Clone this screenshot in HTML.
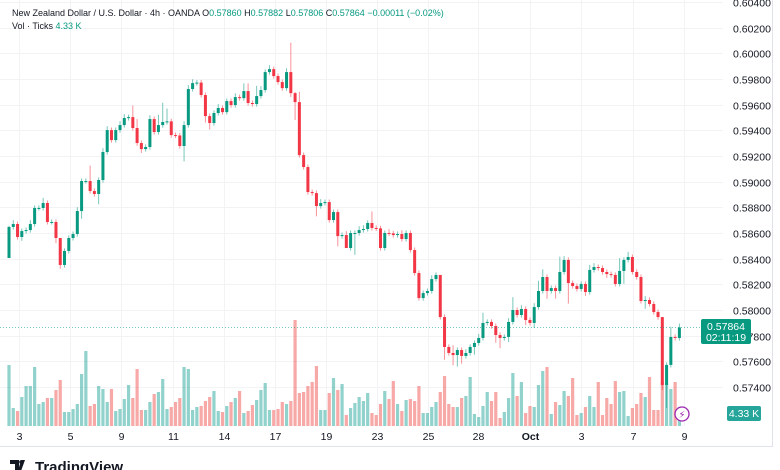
<!DOCTYPE html>
<html><head><meta charset="utf-8"><style>
html,body{margin:0;padding:0;background:#fff;width:780px;height:470px;overflow:hidden}
svg{display:block;font-family:"Liberation Sans","DejaVu Sans",sans-serif}
</style></head><body>
<svg id="chart" width="780" height="470" viewBox="0 0 780 470" xmlns="http://www.w3.org/2000/svg">
<g id="grid"></g>
<g id="vols"></g>
<g id="candles"></g>
<line x1="0" y1="327.5" x2="723" y2="327.5" stroke="#089981" stroke-opacity="0.55" stroke-width="1" stroke-dasharray="1,2"/>
<g id="yaxis"></g>
<g id="xaxis"></g>
<line x1="772.5" y1="0" x2="772.5" y2="447" stroke="#e0e3eb"/>
<line x1="0" y1="446.5" x2="773" y2="446.5" stroke="#e0e3eb"/>
<g>
<rect x="701" y="319" width="50" height="25" rx="2" fill="#089981"/>
<text x="726" y="330" fill="#fff" font-size="10.5" text-anchor="middle">0.57864</text>
<text x="726" y="341" fill="#fff" font-size="10.5" text-anchor="middle">02:11:19</text>
</g>
<g>
<rect x="727" y="406" width="34" height="15" rx="2" fill="#26a69a"/>
<text x="744" y="417" fill="#fff" font-size="10.5" text-anchor="middle">4.33 K</text>
</g>
<g>
<text x="12" y="16" font-size="9" fill="#131722">New Zealand Dollar / U.S. Dollar · 4h · OANDA  <tspan>O</tspan><tspan fill="#089981">0.57860</tspan>  H<tspan fill="#089981">0.57882</tspan>  L<tspan fill="#089981">0.57806</tspan>  C<tspan fill="#089981">0.57864</tspan>  <tspan fill="#089981">−0.00011 (−0.02%)</tspan></text>
<text x="12" y="29" font-size="9" fill="#131722">Vol · Ticks  <tspan fill="#089981">4.33 K</tspan></text>
</g>
<g>
<circle cx="682" cy="414" r="7" fill="#fff" stroke="#9c27b0" stroke-width="1.3"/>
<text x="682" y="418" font-size="10" fill="#9c27b0" text-anchor="middle">⚡</text>
</g>
<g>
<path d="M10 460h9v11h-4v-7h-5z M21 460h4l-4 11h-3z" fill="#131722"/>
<circle cx="21" cy="462" r="1.8" fill="#131722"/>
<text x="35" y="472" font-size="15" font-weight="bold" fill="#131722">TradingView</text>
</g>
</svg>
<script>
const open0 = 0.58405;
const closes = [0.58647,0.58670,0.58569,0.58615,0.58623,0.58670,0.58795,0.58795,0.58834,0.58686,
0.58686,0.58561,0.58351,0.58460,0.58561,0.58592,0.58771,0.59005,0.59005,0.58927,
0.58904,0.59013,0.59231,0.59402,0.59324,0.59402,0.59441,0.59496,0.59503,0.59418,
0.59301,0.59254,0.59270,0.59488,0.59387,0.59441,0.59465,0.59470,0.59363,0.59360,
0.59278,0.59441,0.59722,0.59768,0.59772,0.59675,0.59511,0.59457,0.59535,0.59574,
0.59542,0.59628,0.59597,0.59659,0.59651,0.59706,0.59613,0.59605,0.59667,0.59714,
0.59854,0.59877,0.59823,0.59776,0.59729,0.59854,0.59690,0.59620,0.59207,0.59114,
0.58919,0.58911,0.58810,0.58834,0.58841,0.58701,0.58763,0.58576,0.58584,0.58483,
0.58600,0.58600,0.58623,0.58631,0.58678,0.58639,0.58636,0.58483,0.58600,0.58597,
0.58584,0.58592,0.58553,0.58600,0.58467,0.58288,0.58093,0.58132,0.58148,0.58241,
0.58273,0.57945,0.57712,0.57665,0.57649,0.57688,0.57642,0.57665,0.57712,0.57743,
0.57782,0.57899,0.57907,0.57875,0.57805,0.57782,0.57790,0.57907,0.58000,0.57961,
0.58008,0.57922,0.57899,0.58023,0.58148,0.58257,0.58148,0.58171,0.58148,0.58296,
0.58390,0.58210,0.58187,0.58164,0.58203,0.58140,0.58312,0.58335,0.58327,0.58296,
0.58280,0.58273,0.58203,0.58304,0.58390,0.58413,0.58296,0.58257,0.58070,0.58078,
0.58047,0.57984,0.57945,0.57416,0.57572,0.57790,0.57782,0.57864];
const wickUpPips = [1,3,2,2,2,3,2,2,4,2, 2,2,0,2,2,2,3,2,2,12, 2,2,3,3,2,2,3,3,2,9, 7,2,2,3,2,8,15,10,2,2,
2,3,3,3,2,2,2,2,2,3, 2,2,2,3,2,6,6,2,8,3, 2,3,2,2,2,3,23,1,8,2, 2,2,2,3,2,2,2,2,2,3,
2,2,3,3,2,9,2,2,2,3, 2,2,3,2,2,2,2,2,2,3, 2,0,2,2,6,2,2,3,2,2, 3,8,2,2,2,2,2,3,10,2,
3,2,2,3,8,6,2,2,2,12, 3,2,2,2,2,2,4,3,2,2, 2,2,2,10,2,4,2,2,2,3, 2,2,2,0,2,8,2,3];
const wickDnPips = [0,2,2,3,2,2,2,2,2,2, 2,4,3,2,2,2,2,6,2,2, 2,8,2,2,2,2,2,2,2,2, 2,3,2,2,2,2,2,2,2,2,
2,12,2,2,2,2,5,5,2,2, 2,2,2,2,2,2,2,2,2,2, 2,2,2,2,2,2,3,14,2,2, 2,2,8,2,2,2,2,8,2,0,
2,17,2,2,2,2,2,2,2,2, 2,2,2,2,2,2,2,2,2,2, 2,2,10,2,8,9,6,2,2,6, 2,2,2,2,6,8,2,4,2,2,
2,4,2,4,2,2,6,2,6,2, 2,16,2,2,2,3,2,2,2,2, 3,2,2,2,10,2,2,2,2,6, 2,2,2,4,18,2,2,2];
const volumes = [61,18,15,29,40,40,59,22,24,28, 28,36,46,14,14,17,22,52,75,20, 22,40,37,24,37,15,17,27,41,28,
57,16,16,24,32,34,47,17,19,24, 28,59,57,16,19,20,25,29,35,15, 14,20,24,28,35,13,15,21,26,36,
43,16,16,17,24,22,25,106,33,34, 40,44,60,16,16,33,48,36,
42,11,18,23,29,25,33,13,11,22, 35,27,45,22,15,26,27,25,40,13, 13,19,24,34,50,22,19,19,28,30,
49,12,9,20,34,25,34,8,14,28, 53,30,44,13,20,19,41,55,59,12, 24,21,35,30,48,11,13,19,30,19,
44,11,28,22,45,34,35,10,18,22, 33,29,49,16,16,44,43,37,44,19];
const priceTicks = [0.604,0.602,0.600,0.598,0.596,0.594,0.592,0.590,0.588,0.586,0.584,0.582,0.580,0.578,0.576,0.574];
const dateLabels = ["3","5","9","11","14","17","19","23","25","28","Oct","3","7","9"];
const dateIdx = [2.3,14.3,26.2,38.4,50.3,62.3,74.2,86.2,98.1,109.8,122,134,146.1,158.1];

const NS="http://www.w3.org/2000/svg";
const X0=9, STEP=4.27;
function xs(i){return X0+STEP*i;}
function ys(p){return 310-(p-0.58)*12833;}
function vys(v){return 426-v;}
function mk(tag,attrs,parent){const e=document.createElementNS(NS,tag);for(const k in attrs)e.setAttribute(k,attrs[k]);parent.appendChild(e);return e;}
const grid=document.getElementById('grid'),yax=document.getElementById('yaxis'),xax=document.getElementById('xaxis');
priceTicks.forEach(p=>{
  const y=Math.round(ys(p))+0.5;
  const l=mk('line',{x1:0,y1:y,x2:723,y2:y,stroke:'#f3f3f5'},grid);
  
  
  const t=mk('text',{x:733,y:y+4,'font-size':'10.5',fill:'#131722'},yax);
  t.textContent=p.toFixed(5);
  
  
});
dateLabels.forEach((d,k)=>{
  const x=Math.round(xs(dateIdx[k]))+0.5;
  const l=mk('line',{x1:x,y1:0,x2:x,y2:426,stroke:'#f3f3f5'},grid);
  
  
  const t=mk('text',{x:x,y:440,'font-size':'10.5',fill:'#131722','text-anchor':'middle','font-weight':d==='Oct'?'bold':'normal'},xax);
  t.textContent=d;
  
  
});
const cg=document.getElementById('candles'),vg=document.getElementById('vols');
closes.forEach((c,i)=>{
  const o=i===0?open0:closes[i-1];
  const up=c>=o;
  const col=up?'#089981':'#F23645';
  const x=xs(i);
  const hi=Math.max(o,c)+wickUpPips[i]*0.0001, lo=Math.min(o,c)-wickDnPips[i]*0.0001;
  const w=mk('line',{x1:x,y1:ys(hi),x2:x,y2:ys(lo),stroke:col,'stroke-opacity':'0.55','stroke-width':1},cg);
  
  
  const top=ys(Math.max(o,c)), bot=ys(Math.min(o,c));
  const b=mk('rect',{x:x-1.5,y:top,width:3,height:Math.max(1,bot-top),fill:col},cg);
  
  
  const v=volumes[i];
  const vb=mk('rect',{x:x-1.6,y:vys(v),width:3.2,height:v,fill:up?'rgba(38,166,154,0.5)':'rgba(239,83,80,0.5)'},vg);
  
  
});
</script>
</body></html>
